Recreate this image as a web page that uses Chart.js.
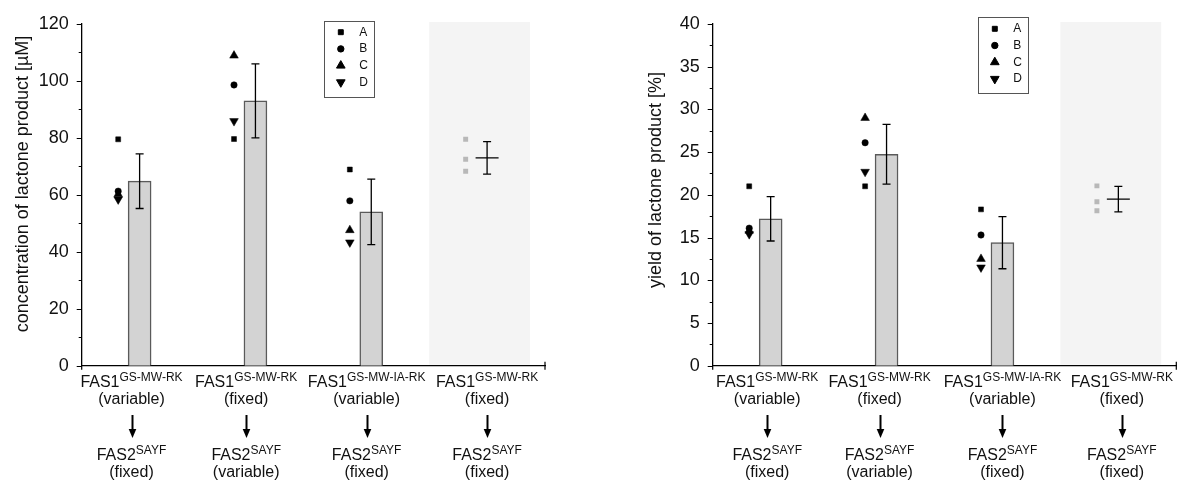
<!DOCTYPE html>
<html>
<head>
<meta charset="utf-8">
<script src="https://cdn.jsdelivr.net/npm/chart.js@4.4.0/dist/chart.umd.min.js"></script>
<style>
    html, body { margin: 0; padding: 0; background: #fff; }
    #wrap { position: relative; width: 1178px; height: 485px; }
    canvas { position: absolute; top: 0; }
    #concChart { left: 0; }
    #yieldChart { left: 590px; }
</style>
</head>
<body>
<div id="wrap">
    <canvas id="concChart" width="590" height="485"></canvas>
    <canvas id="yieldChart" width="588" height="485"></canvas>
</div>
<script>
// strain pairs on the x axis
const donorName = ["FAS1", "FAS1", "FAS1", "FAS1"];
const donorVariant = ["GS-MW-RK", "GS-MW-RK", "GS-MW-IA-RK", "GS-MW-RK"];
const donorMode = ["(variable)", "(fixed)", "(variable)", "(fixed)"];
const acceptorName = ["FAS2", "FAS2", "FAS2", "FAS2"];
const acceptorVariant = ["SAYF", "SAYF", "SAYF", "SAYF"];
const acceptorMode = ["(fixed)", "(variable)", "(fixed)", "(fixed)"];
const runLabels = ["A", "B", "C", "D"];

// concentration [uM]
const concMean = [64.8, 93.0, 54.0, 73.0];
const concErr = [9.6, 13.0, 11.5, 5.7];
const concA = [79.5, 79.6, 68.9];
const concB = [61.3, 98.6, 57.9];
const concC = [60.2, 108.9, 47.6];
const concD = [58.4, 85.9, 43.3];
const concFixed = [79.5, 72.5, 68.3];
const concTicks = { max: 120, step: 10, labelEvery: 20 };

// yield [%]
const yieldMean = [17.2, 24.75, 14.4, 19.5];
const yieldErr = [2.6, 3.5, 3.05, 1.5];
const yieldA = [21.0, 21.0, 18.3];
const yieldB = [16.1, 26.1, 15.3];
const yieldC = [15.8, 29.0, 12.5];
const yieldD = [15.4, 22.7, 11.5];
const yieldFixed = [21.05, 19.2, 18.15];
const yieldTicks = { max: 40, step: 2.5, labelEvery: 5 };

const FONT = "\"Liberation Sans\", Arial, Helvetica, sans-serif";
const TEXT = "#111";
const RUN_STYLES = [
    { pointStyle: "rect", radius: 3.5, rotation: 0 },
    { pointStyle: "circle", radius: 3.2, rotation: 0 },
    { pointStyle: "triangle", radius: 5, rotation: 0 },
    { pointStyle: "triangle", radius: 5, rotation: 180 },
];
const POINT_SHIFT = -0.185;

Chart.defaults.font.family = FONT;
Chart.defaults.color = TEXT;
Chart.defaults.animation = false;

function marker(ctx, style, x, y, color) {
    ctx.save();
    ctx.fillStyle = color;
    ctx.strokeStyle = color;
    Chart.helpers.drawPoint(ctx, {
        pointStyle: style.pointStyle,
        radius: style.radius,
        rotation: style.rotation,
        borderWidth: 0.5,
    }, x, y);
    ctx.restore();
}

function supText(ctx, base, sup, cx, baseline) {
    ctx.font = "16px " + FONT;
    const w1 = ctx.measureText(base).width;
    ctx.font = "12px " + FONT;
    const w2 = ctx.measureText(sup).width;
    const x0 = cx - (w1 + w2) / 2;
    ctx.textAlign = "left";
    ctx.font = "16px " + FONT;
    ctx.fillText(base, x0, baseline);
    ctx.font = "12px " + FONT;
    ctx.fillText(sup, x0 + w1, baseline - 6);
}

// shaded band behind the last group
const bandPlugin = {
    id: "band",
    beforeDraw: function (chart, args, opts) {
        const x = chart.scales.x;
        const area = chart.chartArea;
        const ctx = chart.ctx;
        ctx.save();
        ctx.fillStyle = "#f4f4f4";
        const l = x.getPixelForValue(opts.from);
        const r = x.getPixelForValue(opts.to);
        ctx.fillRect(l, area.top - 2, r - l, area.bottom - area.top + 1);
        ctx.restore();
    },
};

// error bars on the group means
const errorPlugin = {
    id: "errors",
    afterDatasetsDraw: function (chart, args, opts) {
        const x = chart.scales.x;
        const y = chart.scales.y;
        const ctx = chart.ctx;
        ctx.save();
        ctx.strokeStyle = "#000";
        ctx.lineWidth = 1.3;
        opts.mean.forEach(function (m, i) {
            const px = x.getPixelForValue(i + 0.5);
            const top = y.getPixelForValue(m + opts.err[i]);
            const bot = y.getPixelForValue(m - opts.err[i]);
            ctx.beginPath();
            ctx.moveTo(px, top);
            ctx.lineTo(px, bot);
            ctx.moveTo(px - 4, top);
            ctx.lineTo(px + 4, top);
            ctx.moveTo(px - 4, bot);
            ctx.lineTo(px + 4, bot);
            ctx.stroke();
        });
        ctx.restore();
    },
};

// axis ticks, title, legend box and the two-line strain labels
const decorPlugin = {
    id: "decor",
    afterDraw: function (chart, args, opts) {
        const ctx = chart.ctx;
        const x = chart.scales.x;
        const y = chart.scales.y;
        const area = chart.chartArea;
        ctx.save();
        ctx.strokeStyle = "#000";
        ctx.lineWidth = 1.2;
        ctx.beginPath();
        y.ticks.forEach(function (t) {
            const py = Math.round(y.getPixelForValue(t.value)) + 0.5;
            const len = t.label === "" ? 3 : 5;
            ctx.moveTo(area.left - len, py);
            ctx.lineTo(area.left, py);
        });
        ctx.moveTo(area.left, area.bottom);
        ctx.lineTo(area.left, area.bottom + 4);
        const xr = x.getPixelForValue(x.max);
        ctx.moveTo(xr, area.bottom - 4);
        ctx.lineTo(xr, area.bottom + 4);
        ctx.stroke();

        // axis title
        ctx.fillStyle = TEXT;
        ctx.font = "18px " + FONT;
        ctx.translate(area.left - opts.titleGap, opts.titleY);
        ctx.rotate(-Math.PI / 2);
        ctx.textAlign = "center";
        ctx.textBaseline = "middle";
        ctx.fillText(opts.title, 0, 0);
        ctx.setTransform(1, 0, 0, 1, 0, 0);

        // legend box
        const lx = area.left + opts.legendX;
        const ly = opts.legendY;
        ctx.strokeStyle = "#555";
        ctx.lineWidth = 1;
        ctx.strokeRect(Math.round(lx) + 0.5, Math.round(ly) + 0.5, 50, 76);
        ctx.font = "12px " + FONT;
        ctx.textAlign = "left";
        ctx.textBaseline = "middle";
        runLabels.forEach(function (lab, i) {
            const ry = ly + 11.5 + i * 16.7;
            marker(ctx, RUN_STYLES[i], lx + 16.5, ry, "#000");
            ctx.fillStyle = TEXT;
            ctx.fillText(lab, lx + 35, ry);
        });

        // strain labels under the axis
        ctx.textBaseline = "alphabetic";
        ctx.fillStyle = TEXT;
        donorName.forEach(function (name, i) {
            const cx = x.getPixelForValue(i + 0.5 + opts.labelNudge[i]);
            supText(ctx, name, donorVariant[i], cx, 387);
            ctx.font = "16px " + FONT;
            ctx.textAlign = "center";
            ctx.fillText(donorMode[i], cx, 404);
            const ax = Math.round(cx) + 0.5;
            ctx.lineWidth = 2;
            ctx.strokeStyle = "#000";
            ctx.beginPath();
            ctx.moveTo(ax, 415);
            ctx.lineTo(ax, 430);
            ctx.stroke();
            ctx.fillStyle = "#000";
            ctx.beginPath();
            ctx.moveTo(ax - 3.8, 429);
            ctx.lineTo(ax + 3.8, 429);
            ctx.lineTo(ax, 438);
            ctx.closePath();
            ctx.fill();
            ctx.fillStyle = TEXT;
            supText(ctx, acceptorName[i], acceptorVariant[i], cx, 459.5);
            ctx.font = "16px " + FONT;
            ctx.textAlign = "center";
            ctx.fillText(acceptorMode[i], cx, 477);
        });
        ctx.restore();
    },
};

function runPoints(values) {
    return values.map(function (v, i) {
        return { x: i + 0.5 + POINT_SHIFT, y: v };
    });
}

function buildChart(canvasId, setup) {
    const runs = [setup.a, setup.b, setup.c, setup.d];
    const datasets = [
        {
            type: "bar",
            label: "mean",
            data: setup.mean.slice(0, 3).map(function (v, i) {
                return { x: i + 0.5, y: v };
            }),
            backgroundColor: "#d3d3d3",
            borderColor: "#5a5a5a",
            borderWidth: 1.5,
            barThickness: 23,
            order: 3,
        },
        {
            type: "scatter",
            label: "mean (fixed/fixed)",
            data: [{ x: 3.5, y: setup.mean[3] }],
            pointStyle: "line",
            radius: 11.5,
            borderColor: "#000",
            borderWidth: 1.4,
            order: 2,
        },
        {
            type: "scatter",
            label: "runs (fixed/fixed)",
            data: setup.fixed.map(function (v) {
                return { x: 3.5 + POINT_SHIFT, y: v };
            }),
            pointStyle: "rect",
            radius: 3.5,
            backgroundColor: "#b8b8b8",
            borderColor: "#b8b8b8",
            borderWidth: 0,
            order: 1,
        },
    ];
    runs.forEach(function (vals, i) {
        datasets.push({
            type: "scatter",
            label: runLabels[i],
            data: runPoints(vals),
            pointStyle: RUN_STYLES[i].pointStyle,
            rotation: RUN_STYLES[i].rotation,
            radius: RUN_STYLES[i].radius,
            backgroundColor: "#000",
            borderColor: "#000",
            borderWidth: 0.5,
            order: 1,
        });
    });

    return new Chart(document.getElementById(canvasId), {
        data: { datasets: datasets },
        options: {
            responsive: false,
            layout: {
                autoPadding: false,
                padding: { top: 24, right: setup.padRight, left: 0, bottom: 0 },
            },
            plugins: {
                legend: { display: false },
                tooltip: { enabled: false },
                band: { from: 3.0, to: 3.87 },
                errors: { mean: setup.mean, err: setup.err },
                decor: setup.decor,
            },
            scales: {
                x: {
                    type: "linear",
                    min: 0,
                    max: 4,
                    offset: false,
                    grid: { display: false, drawTicks: false, offset: false },
                    border: { display: true, color: "#000", width: 1.3 },
                    ticks: { display: false },
                    afterFit: function (scale) {
                        scale.height = 119.3;
                    },
                },
                y: {
                    min: 0,
                    max: setup.ticks.max,
                    grid: { display: false, drawTicks: false },
                    border: { display: true, color: "#000", width: 1.3 },
                    ticks: {
                        stepSize: setup.ticks.step,
                        autoSkip: false,
                        padding: 13,
                        font: { size: 18 },
                        color: TEXT,
                        callback: function (v) {
                            return v % setup.ticks.labelEvery === 0 ? String(v) : "";
                        },
                    },
                    afterFit: function (scale) {
                        scale.width = setup.axisWidth;
                    },
                },
            },
        },
        plugins: [bandPlugin, errorPlugin, decorPlugin],
    });
}

buildChart("concChart", {
    mean: concMean, err: concErr,
    a: concA, b: concB, c: concC, d: concD, fixed: concFixed,
    ticks: concTicks,
    axisWidth: 81.7,
    padRight: 45,
    decor: {
        title: "concentration of lactone product [\u00b5M]",
        titleGap: 59,
        titleY: 184,
        legendX: 242.6,
        legendY: 20.7,
        labelNudge: [-0.07, -0.08, -0.04, 0],
    },
});

buildChart("yieldChart", {
    mean: yieldMean, err: yieldErr,
    a: yieldA, b: yieldB, c: yieldC, d: yieldD, fixed: yieldFixed,
    ticks: yieldTicks,
    axisWidth: 122.7,
    padRight: 1.7,
    decor: {
        title: "yield of lactone product [%]",
        titleGap: 56.7,
        titleY: 180,
        legendX: 265.6,
        legendY: 17.3,
        labelNudge: [-0.03, -0.06, 0, 0.03],
    },
});
</script>
</body>
</html>
